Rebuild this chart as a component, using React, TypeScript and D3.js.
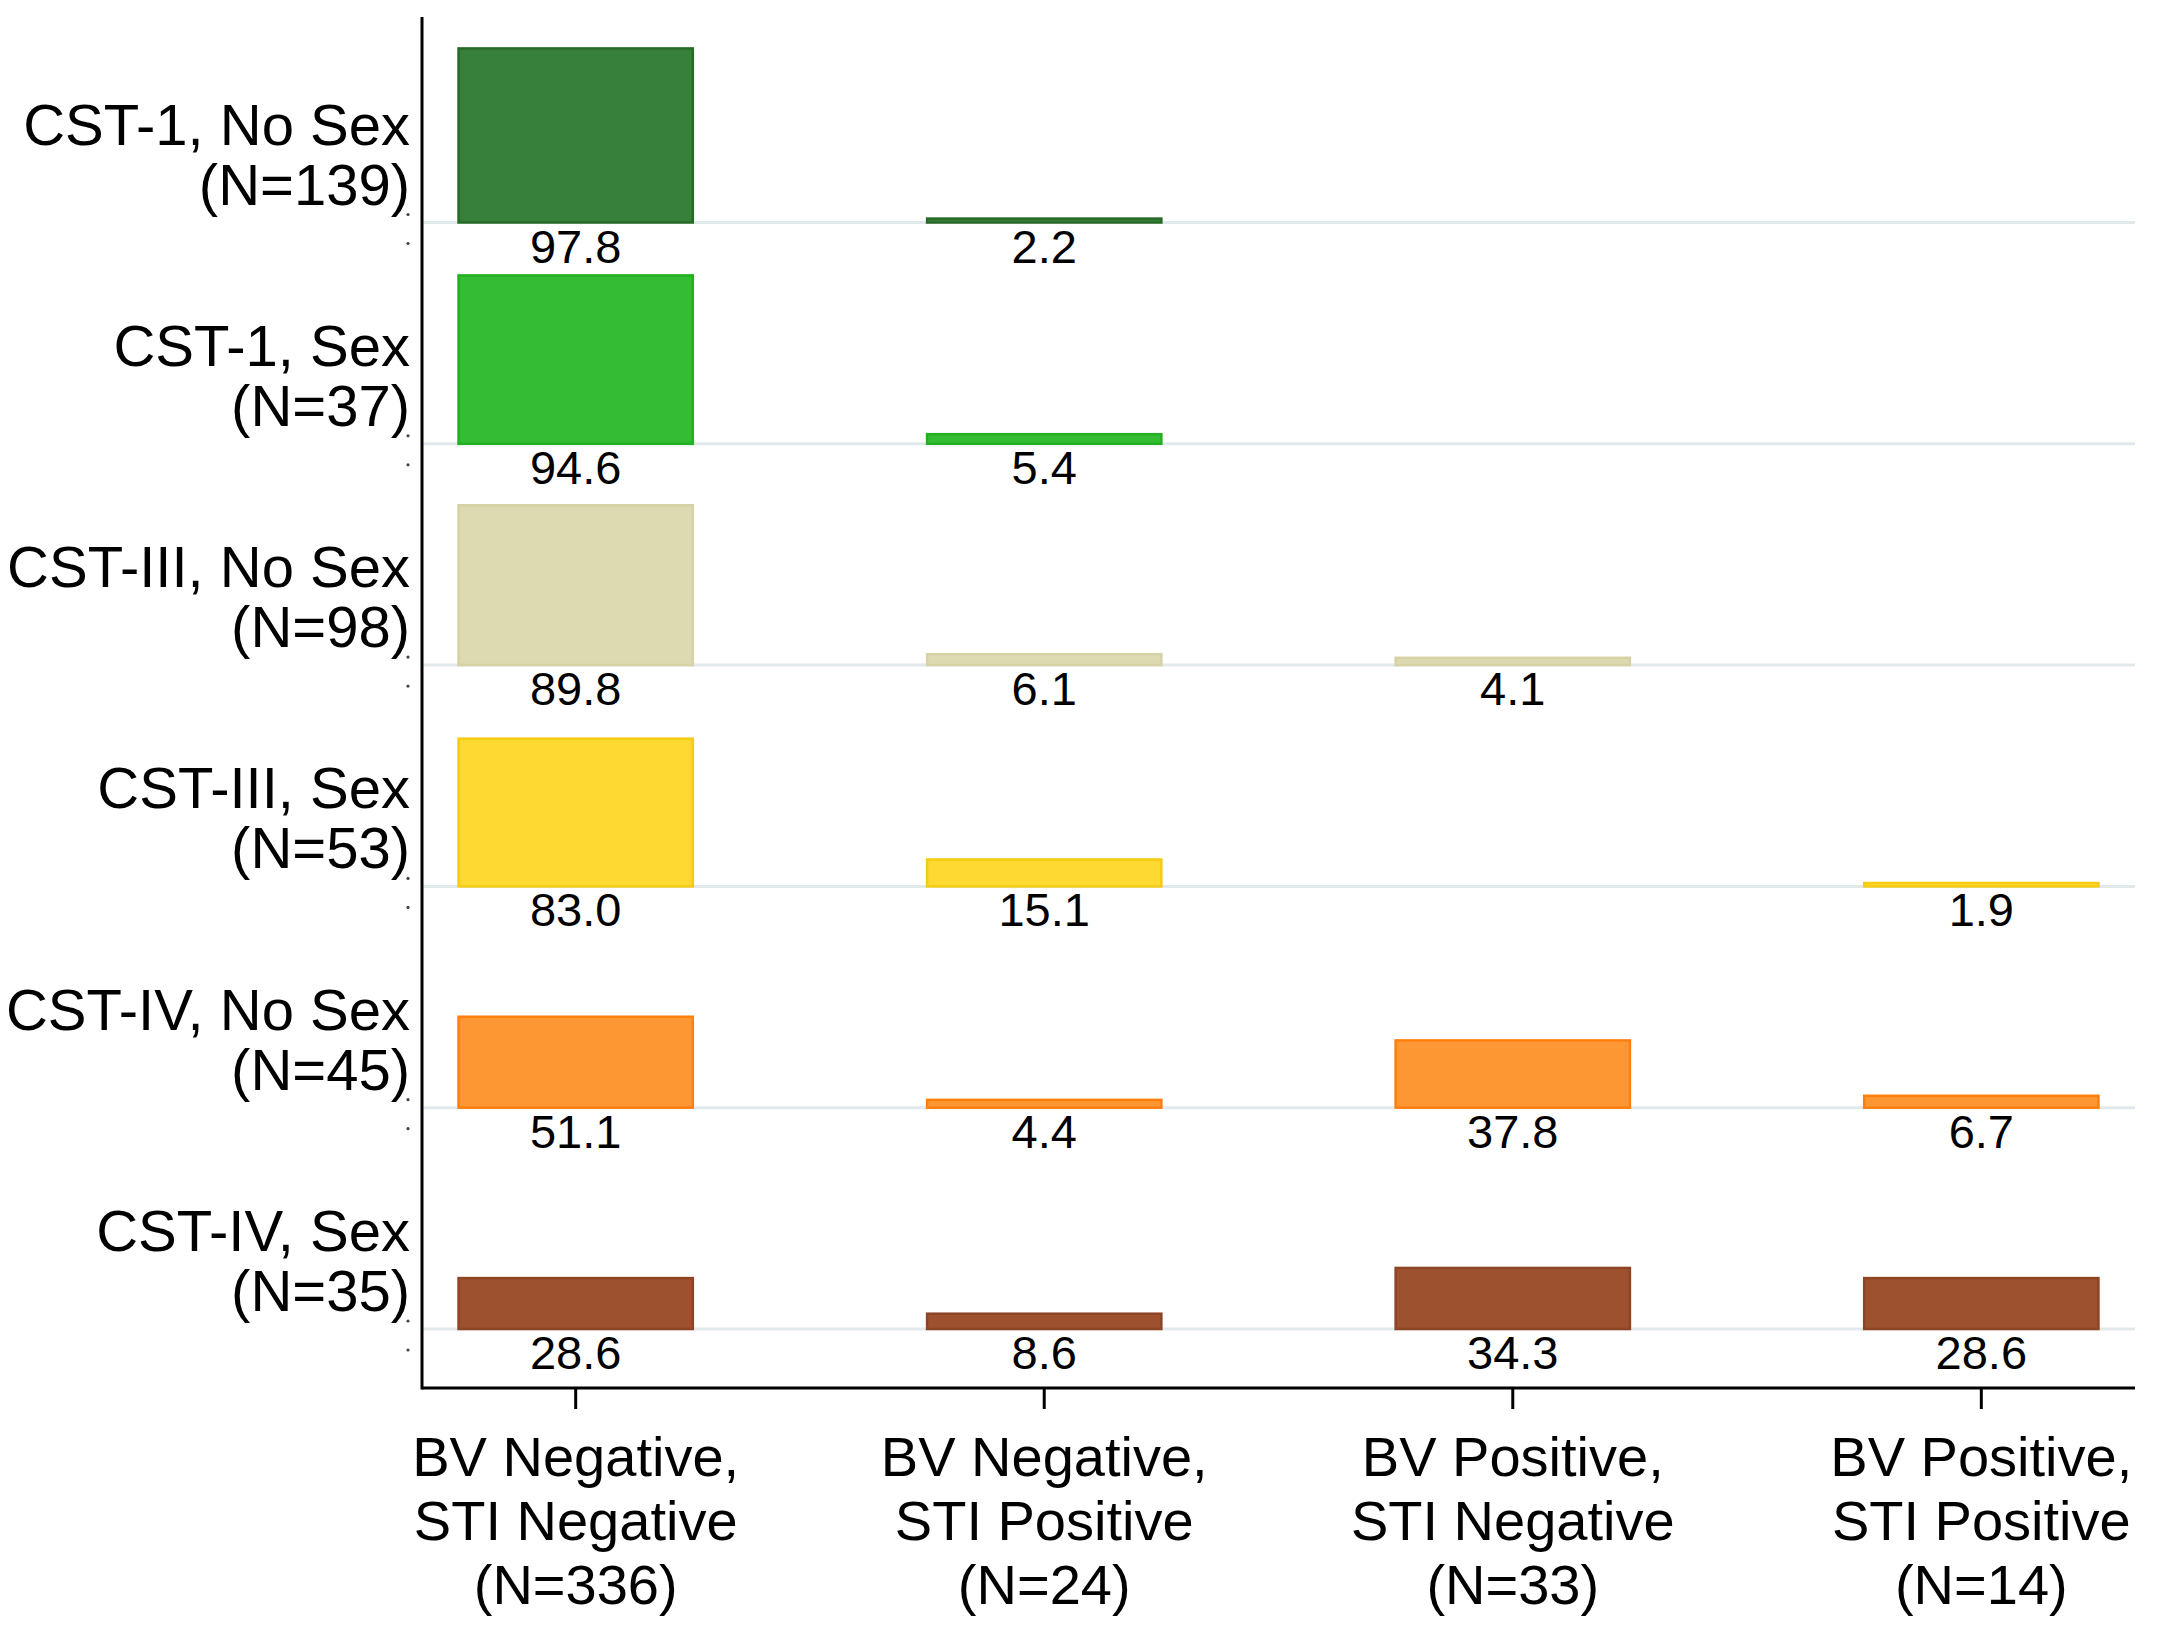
import { useEffect } from "react"
import * as d3 from "d3"

// row groups (CST / sex) and their sizes
const rowLabels = ["CST-1, No Sex", "CST-1, Sex", "CST-III, No Sex", "CST-III, Sex", "CST-IV, No Sex", "CST-IV, Sex"]
const rowNs = [139, 37, 98, 53, 45, 35]
const rowColors = ["#37803a", "#34bd34", "#ddd9b1", "#fed932", "#fd9734", "#9d512e"]
const rowStrokes = ["#276a27", "#22b022", "#d6d2a6", "#f5cc10", "#ff7f0e", "#8e4526"]

// outcome columns
const colLines = [
  ["BV Negative,", "STI Negative"],
  ["BV Negative,", "STI Positive"],
  ["BV Positive,", "STI Negative"],
  ["BV Positive,", "STI Positive"],
]
const colNs = [336, 24, 33, 14]

// percentages per row, one per column (null = no bar)
const cst1NoSex = [97.8, 2.2, null, null]
const cst1Sex = [94.6, 5.4, null, null]
const cst3NoSex = [89.8, 6.1, 4.1, null]
const cst3Sex = [83.0, 15.1, null, 1.9]
const cst4NoSex = [51.1, 4.4, 37.8, 6.7]
const cst4Sex = [28.6, 8.6, 34.3, 28.6]
const values: (number | null)[][] = [cst1NoSex, cst1Sex, cst3NoSex, cst3Sex, cst4NoSex, cst4Sex]

const width = 2165
const height = 1628
const plotLeft = 422
const plotRight = 2135
const plotTop = 17
const plotBottom = 1388
const font = "'Liberation Sans', Arial, Helvetica, sans-serif"

export default function App() {
  useEffect(() => {
    document.body.style.margin = "0"
  }, [])

  const cols = colNs.map((_, i) => String(i))
  const rows = rowLabels.map((_, i) => String(i))

  const x = d3.scalePoint<string>().domain(cols).range([plotLeft, plotRight]).padding(0.328)
  const barW = x.step() * 0.5

  // baseline of each row panel
  const rowBase = d3.scalePoint<string>().domain(rows).range([222.5, 1329])
  const h = d3.scaleLinear().domain([0, 100]).range([0, 178])

  return (
    <svg width={width} height={height} style={{ display: "block", background: "#fff" }} fontFamily={font}>
      {/* gridlines at row baselines */}
      {rows.map((r) => (
        <line key={"g" + r} x1={plotLeft} x2={plotRight} y1={rowBase(r)} y2={rowBase(r)} stroke="#e2e9ed" strokeWidth={3} />
      ))}

      {/* bars */}
      {values.map((vals, ri) =>
        vals.map((v, ci) =>
          v == null ? null : (
            <rect
              key={`b${ri}-${ci}`}
              x={x(cols[ci])! - barW / 2}
              y={rowBase(rows[ri])! - h(v)}
              width={barW}
              height={h(v)}
              fill={rowColors[ri]}
              stroke={rowStrokes[ri]}
              strokeWidth={2.5}
            />
          )
        )
      )}

      {/* value labels */}
      {values.map((vals, ri) =>
        vals.map((v, ci) =>
          v == null ? null : (
            <text key={`v${ri}-${ci}`} x={x(cols[ci])} y={rowBase(rows[ri])! + 40} textAnchor="middle" fontSize={47} fill="#000">
              {d3.format(".1f")(v)}
            </text>
          )
        )
      )}

      {/* small y tick dots */}
      {rows.map((r) => (
        <g key={"d" + r} fill="#444">
          <circle cx={408} cy={rowBase(r)! - 8} r={1.6} />
          <circle cx={408} cy={rowBase(r)! + 21} r={1.6} />
        </g>
      ))}

      {/* row labels */}
      {rowLabels.map((lab, i) => (
        <text key={"r" + i} x={410} textAnchor="end" fontSize={58} fill="#000">
          <tspan x={410} y={rowBase(rows[i])! - 78}>{lab}</tspan>
          <tspan x={410} y={rowBase(rows[i])! - 18}>{`(N=${rowNs[i]})`}</tspan>
        </text>
      ))}

      {/* axes */}
      <line x1={plotLeft} x2={plotLeft} y1={plotTop} y2={plotBottom + 1.5} stroke="#000" strokeWidth={3} />
      <line x1={plotLeft} x2={plotRight} y1={plotBottom} y2={plotBottom} stroke="#000" strokeWidth={3} />
      {cols.map((c) => (
        <line key={"t" + c} x1={x(c)} x2={x(c)} y1={plotBottom} y2={plotBottom + 21} stroke="#000" strokeWidth={3} />
      ))}

      {/* column labels */}
      {colLines.map((lines, i) => (
        <text key={"c" + i} textAnchor="middle" fontSize={56} fill="#000">
          <tspan x={x(cols[i])} y={1476}>{lines[0]}</tspan>
          <tspan x={x(cols[i])} y={1540}>{lines[1]}</tspan>
          <tspan x={x(cols[i])} y={1604}>{`(N=${colNs[i]})`}</tspan>
        </text>
      ))}
    </svg>
  )
}
